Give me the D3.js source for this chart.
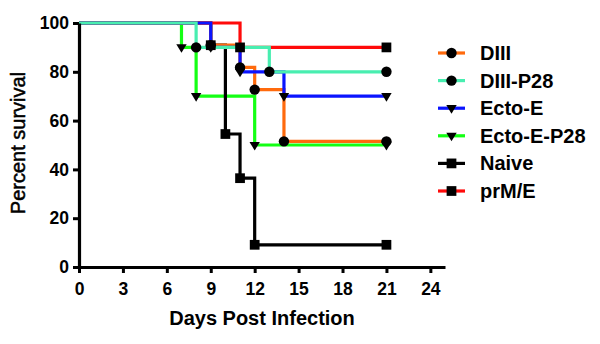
<!DOCTYPE html>
<html>
<head>
<meta charset="utf-8">
<script src="https://cdn.jsdelivr.net/npm/d3@7"></script>
<style>
  body { margin: 0; background: #fff; }
  text { font-family: "Liberation Sans", Arial, sans-serif; }
</style>
</head>
<body>
<div id="chart"></div>
<script>
// survival curves: [day, percent]
const diii      = [[0, 100], [9, 90.9], [11, 81.8], [12, 72.7], [14, 51.5], [21, 51.5]];
const diiiP28   = [[0, 100], [8, 90], [13, 80], [21, 80]];
const ectoE     = [[0, 100], [9, 90], [11, 80], [14, 70], [21, 70]];
const ectoEP28  = [[0, 100], [7, 90], [8, 70], [12, 50], [21, 50]];
const naive     = [[0, 100], [9, 90.9], [10, 54.5], [11, 36.4], [12, 9.1], [21, 9.1]];
const prmE      = [[0, 100], [11, 90], [21, 90]];

const seriesNames = ["DIII", "DIII-P28", "Ecto-E", "Ecto-E-P28", "Naive", "prM/E"];
const xTicks = [0, 3, 6, 9, 12, 15, 18, 21, 24];
const yTicks = [0, 20, 40, 60, 80, 100];

const series = [
    {name: "DIII", data: diii, color: "#ff6a0d", symbol: d3.symbolCircle},
    {name: "DIII-P28", data: diiiP28, color: "#48eeb0", symbol: d3.symbolCircle},
    {name: "Ecto-E", data: ectoE, color: "#0a14ff", symbol: "tri"},
    {name: "Ecto-E-P28", data: ectoEP28, color: "#14ff14", symbol: "tri"},
    {name: "Naive", data: naive, color: "#000000", symbol: d3.symbolSquare},
    {name: "prM/E", data: prmE, color: "#ff0a0a", symbol: d3.symbolSquare}
];
// bottom to top, so the teal curve sits over the others like in the picture
const drawOrder = ["Ecto-E-P28", "Naive", "DIII", "prM/E", "Ecto-E", "DIII-P28"];

const margin = {top: 23, right: 155, bottom: 77, left: 79},
    width = 600 - margin.left - margin.right,
    height = 344 - margin.top - margin.bottom;

const x = d3.scaleLinear().domain([0, 25]).range([0, width]);
const y = d3.scaleLinear().domain([0, 100]).range([height, 0]);

const svg = d3.select("#chart").append("svg")
    .attr("width", 600)
    .attr("height", 344)
    .append("g")
    .attr("transform", "translate(" + margin.left + "," + margin.top + ")");

const line = d3.line()
    .x(d => x(d[0]))
    .y(d => y(d[1]))
    .curve(d3.curveStepAfter);

function marker(sym, size) {
    if (sym === "tri") {
        // downward triangle
        const s = size;
        return "M" + (-s) + "," + (-s * 0.6) + "L" + s + "," + (-s * 0.6) + "L0," + (s * 1.05) + "Z";
    }
    return d3.symbol().type(sym).size(sym === d3.symbolSquare ? 95 : 85)();
}

const ordered = drawOrder.map(n => series.find(s => s.name === n));

svg.selectAll(".curve")
    .data(ordered)
    .enter().append("path")
    .attr("class", "curve")
    .attr("fill", "none")
    .attr("stroke", d => d.color)
    .attr("stroke-width", 3.2)
    .attr("d", d => line(d.data));

ordered.forEach(function (s) {
    svg.selectAll(null)
        .data(s.data.slice(1))
        .enter().append("path")
        .attr("transform", d => "translate(" + x(d[0]) + "," + y(d[1]) + ")")
        .attr("d", marker(s.symbol, 5.2))
        .attr("fill", "#000");
});

// axes
const xAxis = svg.append("g")
    .attr("transform", "translate(0," + height + ")")
    .call(d3.axisBottom(x).tickValues(xTicks).tickSize(6).tickSizeOuter(0).tickPadding(10));

const yAxis = svg.append("g")
    .call(d3.axisLeft(y).tickValues(yTicks).tickSize(6).tickSizeOuter(0).tickPadding(4));

[xAxis, yAxis].forEach(function (g) {
    g.select(".domain").attr("stroke", "#000").attr("stroke-width", 3.2);
    g.selectAll(".tick line").attr("stroke", "#000").attr("stroke-width", 3);
    g.selectAll(".tick text")
        .attr("fill", "#000")
        .style("font-size", "17.5px")
        .style("font-weight", "bold")
        .style("font-family", "'Liberation Sans', Arial, sans-serif");
});

svg.append("text")
    .attr("x", width / 2)
    .attr("y", 325 - margin.top)
    .attr("text-anchor", "middle")
    .style("font-size", "20px")
    .style("font-weight", "bold")
    .text("Days Post Infection");

svg.append("text")
    .attr("transform", "translate(" + (25 - margin.left) + "," + (143 - margin.top) + ") rotate(-90)")
    .attr("text-anchor", "middle")
    .attr("stroke", "#000")
    .attr("stroke-width", 0.5)
    .style("font-size", "20px")
    .text("Percent survival");

// legend
const legend = svg.append("g")
    .attr("transform", "translate(" + (438 - margin.left) + "," + (53 - margin.top) + ")");

const row = legend.selectAll(".row")
    .data(series)
    .enter().append("g")
    .attr("transform", (d, i) => "translate(0," + (i * 27.6) + ")");

row.append("line")
    .attr("x1", 0).attr("x2", 27)
    .attr("stroke", d => d.color)
    .attr("stroke-width", 3.2);

row.append("path")
    .attr("transform", "translate(13.5,0)")
    .attr("d", d => marker(d.symbol, 5.2))
    .attr("fill", "#000");

row.append("text")
    .attr("x", 42)
    .attr("y", 7)
    .style("font-size", "20px")
    .style("font-weight", "bold")
    .text((d, i) => seriesNames[i]);
</script>
</body>
</html>
